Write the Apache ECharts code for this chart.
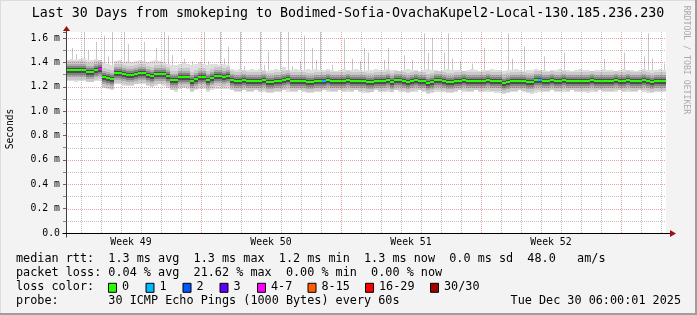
<!DOCTYPE html>
<html><head><meta charset="utf-8">
<script src="https://cdn.jsdelivr.net/npm/echarts@6/dist/echarts.min.js"></script>
<style>html,body{margin:0;padding:0;background:#f3f3f3}#c{width:697px;height:315px}</style>
</head><body><div id="c"></div><script>
(function () {
// ---- time frame ----
const START = Date.UTC(2025, 10, 30, 6, 0, 0);
const END = Date.UTC(2025, 11, 30, 6, 0, 0);
const DAY = 86400000;
const SPAN_DAYS = (END - START) / DAY;
const N_STEPS = 150;
const STEP = SPAN_DAYS / N_STEPS;  // in days

// ---- median rtt per step (ms) ----
const median = [
  1.34,1.34,1.335,1.34,1.34,1.325,1.32,1.34,1.345,
  1.28,1.275,1.262,
  1.31,1.31,1.305,1.295,1.295,1.305,1.31,1.31,1.30,1.29,1.305,1.305,1.305,
  1.285,1.26,1.255,1.28,1.28,1.28,1.25,1.265,1.28,1.28,1.26,1.272,1.285,1.285,1.28,1.285,
  1.255,1.25,1.25,1.255,1.245,1.245,1.25,1.25,1.255,1.24,1.24,1.25,1.25,1.255,1.265,1.25,1.25,1.25,1.25,1.24,1.24,1.25,
  1.25,1.25,1.252,1.25,1.248,1.25,1.25,1.252,1.25,1.25,1.25,1.245,1.238,1.24,1.248,1.25,1.25,1.252,1.242,1.255,
  1.255,1.25,1.243,1.25,1.252,1.25,1.245,1.235,1.24,1.255,1.255,1.25,1.24,1.243,1.25,1.25,1.252,1.25,1.25,1.248,
  1.25,1.25,1.252,1.25,1.25,1.245,1.235,1.24,1.25,1.25,1.25,1.245,1.24,1.24,1.255,1.252,1.25,1.25,1.252,1.25,
  1.25,1.255,1.25,1.25,1.248,1.245,1.25,1.25,1.252,1.25,1.25,1.25,1.245,1.25,1.252,1.25,1.25,1.255,1.25,1.248,
  1.25,1.252,1.25,1.242,1.245,1.25,1.25
];
// ---- upper edge of the smoke (ms) ----
const smokeHigh = [
  1.42,1.43,1.42,1.43,1.44,1.42,1.42,1.43,1.42,
  1.40,1.39,1.38,
  1.41,1.42,1.40,1.41,1.40,1.41,1.42,1.41,1.40,1.41,1.42,1.41,1.40,
  1.39,1.38,1.38,1.39,1.40,1.39,1.38,1.39,1.40,1.39,1.38,1.39,1.39,1.38,1.39,1.38,
  1.35,1.34,1.35,1.34,1.34,1.35,1.34,1.35,1.34,1.33,1.34,1.35,1.34,1.36,1.34,1.34,1.35,1.34,1.34,1.35,
  1.34,1.35,1.34,1.34,1.35,1.34,1.33,1.34,1.35,1.34,1.34,1.35,1.34,1.33,1.34,1.34,1.35,1.34,1.34,1.35,
  1.34,1.34,1.33,1.34,1.35,1.34,1.34,1.33,1.34,1.35,1.34,1.34,1.33,1.34,1.35,1.34,1.34,1.34,1.33,1.34,
  1.35,1.34,1.33,1.34,1.34,1.35,1.34,1.34,1.33,1.34,1.34,1.35,1.34,1.33,1.34,1.34,1.35,1.34,1.34,1.33,
  1.34,1.34,1.35,1.34,1.34,1.33,1.34,1.35,1.34,1.34,1.33,1.34,1.34,1.35,1.34,1.34,1.33,1.34,1.35,1.34,
  1.34,1.33,1.34,1.35,1.34,1.34,1.34,1.35,1.34
];
// ---- lower edge of the smoke (ms) ----
const smokeLow = [
  1.25,1.25,1.24,1.25,1.25,1.24,1.24,1.25,1.25,
  1.19,1.18,1.17,
  1.22,1.22,1.21,1.21,1.21,1.22,1.22,1.22,1.21,1.20,1.21,1.22,1.21,
  1.19,1.17,1.16,1.18,1.19,1.18,1.16,1.17,1.18,1.18,1.16,1.17,1.18,1.18,1.18,1.18,
  1.17,1.16,1.16,1.17,1.16,1.16,1.17,1.16,1.16,1.15,1.15,1.16,1.16,1.17,1.16,1.16,1.16,1.17,1.16,1.15,
  1.15,1.16,1.16,1.17,1.16,1.16,1.16,1.17,1.16,1.16,1.16,1.17,1.16,1.15,1.15,1.16,1.17,1.16,1.16,1.16,
  1.16,1.17,1.16,1.16,1.15,1.16,1.16,1.17,1.16,1.14,1.15,1.16,1.16,1.16,1.15,1.15,1.16,1.17,1.16,1.16,
  1.16,1.17,1.16,1.16,1.16,1.16,1.15,1.15,1.14,1.15,1.16,1.16,1.17,1.16,1.15,1.14,1.15,1.16,1.16,1.16,
  1.17,1.16,1.16,1.16,1.16,1.17,1.16,1.16,1.16,1.15,1.16,1.16,1.17,1.16,1.16,1.16,1.16,1.17,1.16,1.16,
  1.16,1.16,1.17,1.16,1.15,1.15,1.16,1.16,1.16
];
// ---- isolated slow pings (step index, max rtt ms) ----
const spikeIdx = [1,2,4,5,7,9,10,11,14,15,19,22,24,25,26,29,31,34,35,38,39,40,43,44,48,49,50,53,55,56,58,59,61,62,63,66,69,71,73,74,75,79,80,84,86,89,90,91,94,95,96,98,101,104,110,111,114,119,124,134,139,144,145,146,149];
const spikeTop = [1.52,1.47,1.65,1.50,1.57,1.62,1.45,1.65,1.65,1.55,1.57,1.52,1.65,1.62,1.46,1.43,1.41,1.65,1.41,1.65,1.43,1.53,1.65,1.37,1.65,1.38,1.49,1.65,1.65,1.37,1.41,1.62,1.52,1.42,1.65,1.38,1.59,1.43,1.41,1.52,1.48,1.42,1.52,1.46,1.42,1.64,1.48,1.60,1.48,1.64,1.43,1.41,1.39,1.52,1.64,1.43,1.53,1.45,1.48,1.43,1.48,1.45,1.64,1.43,1.39];
// ---- steps with packet loss (step index, lost pings) ----
const lossIdx = [8, 64, 118];
const lossCount = [5, 1, 1];

// ---- legend / axis text ----
const lossLabels = ['0','1','2','3','4-7','8-15','16-29','30/30'];
const lossColors = ['#26ff00','#00b8ff','#0059ff','#5e00ff','#ff00ff','#ff5e00','#ff0000','#a00000'];
const weekStarts = [Date.UTC(2025,10,30), Date.UTC(2025,11,7), Date.UTC(2025,11,14), Date.UTC(2025,11,21), Date.UTC(2025,11,28)];
const weekLabels = ['Week 49','Week 50','Week 51','Week 52'];
const Y_MAX = 1.65, Y_MAJOR = 0.2, Y_MINOR = 0.1;

const MONO = "'DejaVu Sans Mono', monospace";
const toDay = t => (t - START) / DAY;

function lossClass(n) {
  if (n <= 0) return 0; if (n <= 3) return n; if (n <= 7) return 4;
  if (n <= 15) return 5; if (n <= 29) return 6; return 7;
}
const lossPerStep = median.map(() => 0);
lossIdx.forEach((k, j) => { lossPerStep[k] = lossClass(lossCount[j]); });

const smokeData = median.map((m, i) => [i * STEP, (i + 1) * STEP, smokeLow[i], smokeHigh[i], m]);
const medData = median.map((m, i) => [i * STEP, (i + 1) * STEP, m, lossPerStep[i]]);
const spikeData = spikeIdx.map((k, j) => [(k + 0.5) * STEP, median[k], spikeTop[j]]);

const weekMids = weekStarts.slice(0, 4).map(t => toDay(t) + 3.5);
const weekLines = weekStarts.filter(t => t > START && t < END).map(toDay);
const dayLines = [];
for (let t = Date.UTC(2025, 11, 1); t < END; t += DAY) { const d = toDay(t); if (weekLines.indexOf(d) < 0) dayLines.push(d); }
const vGrid = dayLines.map(d => [d, 0, 0]).concat(weekLines.map(d => [d, 0, 1]));
const hGrid = [];
for (let k = 1; k * Y_MINOR < Y_MAX; k++) hGrid.push([0, +(k * Y_MINOR).toFixed(2), (k % 2 === 0) ? 1 : 0]);
hGrid.sort((a, b) => a[2] - b[2]);
const weekLabelData = weekMids.map((d, k) => [d, 0, k]);

const GRID_GRAY = 'rgba(110,110,110,0.42)';
const GRID_RED = 'rgba(200,0,0,0.36)';

function renderSmoke(params, api) {
  const x0 = Math.round(api.coord([api.value(0), 0])[0]);
  const x1 = Math.round(api.coord([api.value(1), 0])[0]);
  const yLo = Math.round(api.coord([api.value(0), api.value(2)])[1]);
  const yHi = Math.round(api.coord([api.value(0), api.value(3)])[1]);
  const yMd = Math.round(api.coord([api.value(0), api.value(4)])[1]);
  const w = x1 - x0;
  const band = (a, b, c) => ({type: 'rect', shape: {x: x0, y: a, width: w, height: b - a}, style: {fill: c}});
  return {type: 'group', children: [
    band(yHi, yLo, '#dedede'),
    band(Math.max(yHi, yMd - 9), Math.min(yLo, yMd + 10), '#c9c9c9'),
    band(yMd - 6, yMd + 7, '#aaaaaa'),
    band(yMd - 4, yMd + 5, '#828282'),
    band(yMd - 2, yMd + 3, '#4c4c4c')
  ]};
}
function renderMedian(params, api) {
  const x0 = Math.round(api.coord([api.value(0), 0])[0]);
  const x1 = Math.round(api.coord([api.value(1), 0])[0]);
  const y = Math.round(api.coord([api.value(0), api.value(2)])[1]);
  return {type: 'rect', shape: {x: x0, y: y - 1, width: x1 - x0, height: 2}, style: {fill: lossColors[api.value(3)]}};
}
function renderSpike(params, api) {
  const cs = params.coordSys;
  const x = Math.round(api.coord([api.value(0), 0])[0]) + 0.5;
  const yb = api.coord([api.value(0), api.value(1)])[1];
  const yt = Math.max(cs.y, api.coord([api.value(0), api.value(2)])[1]);
  return {type: 'line', shape: {x1: x, y1: yb, x2: x, y2: yt}, style: {stroke: '#c8c8c8', lineWidth: 1}};
}
function renderVGrid(params, api) {
  const cs = params.coordSys;
  const x = Math.round(api.coord([api.value(0), 0])[0]) + 0.5;
  return {type: 'line', shape: {x1: x, y1: cs.y, x2: x, y2: cs.y + cs.height},
    style: {stroke: api.value(2) === 1 ? GRID_RED : GRID_GRAY, lineWidth: 1, lineDash: [1, 1]}};
}
function renderHGrid(params, api) {
  const cs = params.coordSys;
  const y = Math.round(api.coord([api.value(0), api.value(1)])[1]) + 0.5;
  return {type: 'line', shape: {x1: cs.x, y1: y, x2: cs.x + cs.width, y2: y},
    style: {stroke: api.value(2) === 1 ? GRID_RED : GRID_GRAY, lineWidth: 1, lineDash: [1, 1]}};
}
function renderWeekLabel(params, api) {
  const p = api.coord([api.value(0), 0]);
  return {type: 'text', x: p[0], y: p[1] + 9.5,
    style: {text: weekLabels[api.value(2)], font: '9.8px ' + MONO, fill: '#000', textAlign: 'center', textVerticalAlign: 'middle'}};
}

const chart = echarts.init(document.getElementById('c'), null, {renderer: 'canvas'});

const legendY = [259.3, 273.3, 287.3, 301.3];
const boxX = [108, 145.5, 182.5, 219.5, 257, 307.5, 365, 430];
const graphics = [
  {type: 'rect', shape: {x: 0, y: 0, width: 697, height: 1}, style: {fill: '#dcdcdc'}, silent: true},
  {type: 'rect', shape: {x: 0, y: 0, width: 1, height: 315}, style: {fill: '#dcdcdc'}, silent: true},
  {type: 'rect', shape: {x: 695, y: 0, width: 2, height: 315}, style: {fill: '#9e9e9e'}, silent: true},
  {type: 'rect', shape: {x: 0, y: 313, width: 697, height: 2}, style: {fill: '#9e9e9e'}, silent: true},
  {type: 'text', x: 348, y: 13.5, style: {text: 'Last 30 Days from smokeping to Bodimed-Sofia-OvachaKupel2-Local-130.185.236.230',
    font: '13.3px ' + MONO, fill: '#000', textAlign: 'center', textVerticalAlign: 'middle'}},
  {type: 'text', x: 10, y: 129, rotation: Math.PI / 2, style: {text: 'Seconds', font: '9.6px ' + MONO, fill: '#000',
    textAlign: 'center', textVerticalAlign: 'middle'}},
  {type: 'text', x: 686.5, y: 60, rotation: -Math.PI / 2, style: {text: 'RRDTOOL / TOBI OETIKER', font: '8.2px ' + MONO,
    fill: '#aaaaaa', textAlign: 'center', textVerticalAlign: 'middle'}},
  {type: 'text', x: 16, y: legendY[0], style: {text: 'median rtt:  1.3 ms avg  1.3 ms max  1.2 ms min  1.3 ms now  0.0 ms sd  48.0   am/s',
    font: '11.8px ' + MONO, fill: '#000', textVerticalAlign: 'middle'}},
  {type: 'text', x: 16, y: legendY[1], style: {text: 'packet loss: 0.04 % avg  21.62 % max  0.00 % min  0.00 % now',
    font: '11.8px ' + MONO, fill: '#000', textVerticalAlign: 'middle'}},
  {type: 'text', x: 16, y: legendY[2], style: {text: 'loss color:', font: '11.8px ' + MONO, fill: '#000', textVerticalAlign: 'middle'}},
  {type: 'text', x: 16, y: legendY[3], style: {text: 'probe:       30 ICMP Echo Pings (1000 Bytes) every 60s',
    font: '11.8px ' + MONO, fill: '#000', textVerticalAlign: 'middle'}},
  {type: 'text', x: 681, y: legendY[3], style: {text: 'Tue Dec 30 06:00:01 2025', font: '11.8px ' + MONO, fill: '#000',
    textAlign: 'right', textVerticalAlign: 'middle'}}
];
lossLabels.forEach((lab, k) => {
  graphics.push({type: 'rect', shape: {x: boxX[k] + 0.5, y: legendY[2] - 4, width: 8, height: 9},
    style: {fill: lossColors[k], stroke: '#000', lineWidth: 1}});
  graphics.push({type: 'text', x: boxX[k] + 14, y: legendY[2], style: {text: lab, font: '11.8px ' + MONO, fill: '#000', textVerticalAlign: 'middle'}});
});

chart.setOption({
  animation: false,
  backgroundColor: '#f3f3f3',
  grid: {left: 66, right: 31, top: 32, bottom: 82, show: true, backgroundColor: '#ffffff', borderWidth: 0},
  xAxis: {
    type: 'value', min: 0, max: SPAN_DAYS,
    axisLine: {show: false}, axisTick: {show: false}, splitLine: {show: false}, axisLabel: {show: false}
  },
  yAxis: {
    type: 'value', min: 0, max: Y_MAX, interval: Y_MAJOR,
    axisLine: {show: false},
    axisTick: {show: true, length: 3, lineStyle: {color: '#666'}},
    minorTick: {show: true, splitNumber: 2, length: 3, lineStyle: {color: '#888'}},
    splitLine: {show: false},
    axisLabel: {showMaxLabel: false, margin: 6, fontFamily: MONO, fontSize: 9.8, color: '#000',
      formatter: v => (Math.abs(v) < 1e-9 ? '0.0' : (Math.abs(v - Math.round(v / Y_MAJOR) * Y_MAJOR) > 1e-6 ? '' : v.toFixed(1) + ' m'))}
  },
  series: [
    {type: 'custom', name: 'spikes', z: 2, silent: true, renderItem: renderSpike, data: spikeData, encode: {x: 0, y: [1, 2]}},
    {type: 'custom', name: 'smoke', z: 3, silent: true, renderItem: renderSmoke, data: smokeData, encode: {x: [0, 1], y: [2, 3, 4]}},
    {type: 'custom', name: 'median', z: 4, silent: true, renderItem: renderMedian, data: medData, encode: {x: [0, 1], y: 2}},
    {type: 'custom', name: 'vgrid', z: 5, silent: true, renderItem: renderVGrid, data: vGrid, encode: {x: 0, y: 1}},
    {type: 'custom', name: 'hgrid', z: 5, silent: true, renderItem: renderHGrid, data: hGrid, encode: {x: 0, y: 1}},
    {type: 'custom', name: 'weeks', z: 6, silent: true, clip: false, renderItem: renderWeekLabel, data: weekLabelData, encode: {x: 0, y: 1}}
  ],
  graphic: graphics
});

// axis lines and arrows, positioned through the chart's own scales
const o = chart.convertToPixel({xAxisIndex: 0, yAxisIndex: 0}, [0, 0]);
const tr = chart.convertToPixel({xAxisIndex: 0, yAxisIndex: 0}, [SPAN_DAYS, Y_MAX]);
const ax = Math.round(o[0]) + 0.5, ay = Math.round(o[1]) + 0.5;
const plotTop = Math.round(tr[1]);
const plotRight = Math.round(tr[0]);
chart.setOption({graphic: graphics.concat([
  {type: 'line', shape: {x1: ax, y1: ay + 4, x2: ax, y2: plotTop - 2}, style: {stroke: '#404040', lineWidth: 1}, z: 50},
  {type: 'line', shape: {x1: ax - 4, y1: ay, x2: plotRight + 5, y2: ay}, style: {stroke: '#000', lineWidth: 1}, z: 50},
  {type: 'polygon', shape: {points: [[ax - 3.5, plotTop - 1], [ax + 3.5, plotTop - 1], [ax, plotTop - 6]]}, style: {fill: '#a01010'}, z: 51},
  {type: 'polygon', shape: {points: [[plotRight + 4, ay - 3.5], [plotRight + 4, ay + 3.5], [plotRight + 10, ay]]}, style: {fill: '#a01010'}, z: 51}
])});
})();
</script></body></html>
